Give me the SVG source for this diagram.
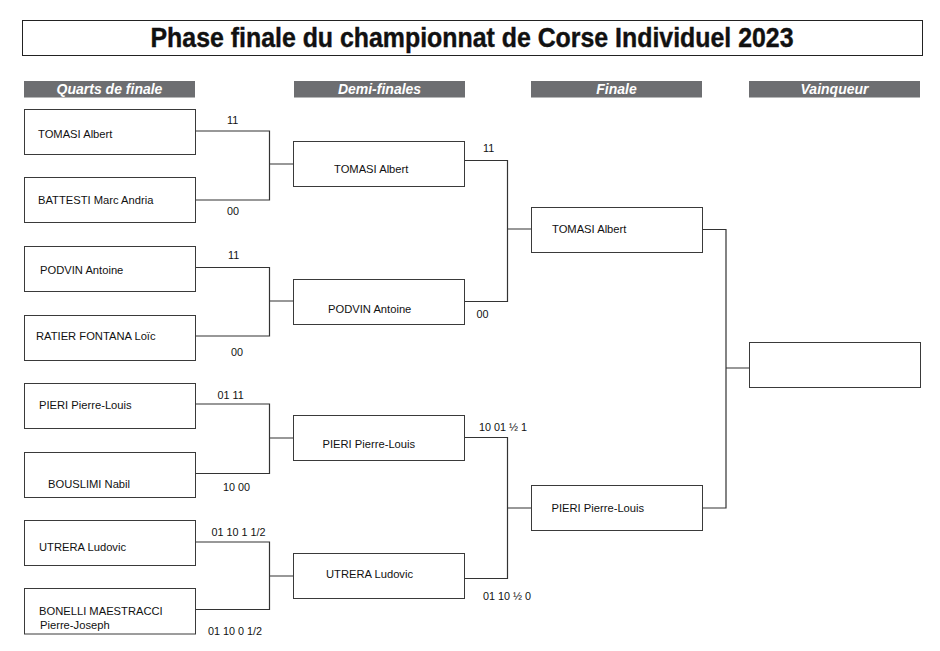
<svg xmlns="http://www.w3.org/2000/svg" width="940" height="651" viewBox="0 0 940 651">
<style>
.bg{fill:#ffffff}
.box{fill:#ffffff;stroke:#3a3a3a;stroke-width:1}
.hdr{fill:#6d6e71}
.hdrt{font-family:"Liberation Sans",Arial,sans-serif;font-weight:bold;font-style:italic;font-size:14px;fill:#ffffff;text-anchor:middle}
.name{font-family:"Liberation Sans",Arial,sans-serif;font-size:11.2px;fill:#111111}
.score{font-family:"Liberation Sans",Arial,sans-serif;font-size:10.8px;fill:#111111}
.conn{fill:none;stroke:#333333;stroke-width:1.2}
.title{font-family:"Liberation Sans",Arial,sans-serif;font-weight:bold;font-size:27px;fill:#111111;stroke:#111111;stroke-width:0.4;text-anchor:middle}
</style>
<rect class="bg" x="0" y="0" width="940" height="651"/>
<g id="title">
<rect x="22.5" y="20.5" width="900" height="35" fill="#ffffff" stroke="#222222" stroke-width="1"/>
<text class="title" x="472" y="46.5" textLength="643" lengthAdjust="spacingAndGlyphs">Phase finale du championnat de Corse Individuel 2023</text>
</g>
<g id="headers">
<g id="hdr-qf"><rect class="hdr" x="24" y="81" width="171" height="16.5"/><text class="hdrt" x="109.5" y="94">Quarts de finale</text></g>
<g id="hdr-sf"><rect class="hdr" x="294" y="81" width="171" height="16.5"/><text class="hdrt" x="379.5" y="94">Demi-finales</text></g>
<g id="hdr-f"><rect class="hdr" x="531" y="81" width="171" height="16.5"/><text class="hdrt" x="616.5" y="94">Finale</text></g>
<g id="hdr-v"><rect class="hdr" x="749" y="81" width="171" height="16.5"/><text class="hdrt" x="834.5" y="94">Vainqueur</text></g>
</g>
<g id="connectors">
<path class="conn" d="M196,131 H269.5 V200 H196 M269.5,164 H293"/>
<path class="conn" d="M196,267.5 H269.5 V336 H196 M269.5,301 H293"/>
<path class="conn" d="M196,404 H269.5 V473.5 H196 M269.5,438 H293"/>
<path class="conn" d="M196,542 H269.5 V609.5 H196 M269.5,576 H293"/>
<path class="conn" d="M465,160.5 H507.5 V301.5 H465 M507.5,229 H531"/>
<path class="conn" d="M465,437.5 H507.5 V578.5 H465 M507.5,508 H531"/>
<path class="conn" d="M702,229.5 H726 V508 H702 M726,368 H749"/>
</g>
<g id="qf1"><rect class="box" x="24.5" y="109.5" width="171" height="45"/><text class="name" x="38" y="137.5">TOMASI Albert</text></g>
<g id="qf2"><rect class="box" x="24.5" y="177.5" width="171" height="45"/><text class="name" x="38" y="204">BATTESTI Marc Andria</text></g>
<g id="qf3"><rect class="box" x="24.5" y="246.5" width="171" height="45"/><text class="name" x="40" y="274">PODVIN Antoine</text></g>
<g id="qf4"><rect class="box" x="24.5" y="315.5" width="171" height="45"/><text class="name" x="36" y="339.5">RATIER FONTANA Loïc</text></g>
<g id="qf5"><rect class="box" x="24.5" y="383.5" width="171" height="45"/><text class="name" x="39" y="409">PIERI Pierre-Louis</text></g>
<g id="qf6"><rect class="box" x="24.5" y="452.5" width="171" height="45"/><text class="name" x="48" y="487.5">BOUSLIMI Nabil</text></g>
<g id="qf7"><rect class="box" x="24.5" y="520.5" width="171" height="45"/><text class="name" x="39" y="551">UTRERA Ludovic</text></g>
<g id="qf8"><rect class="box" x="24.5" y="588.5" width="171" height="45.5"/><text class="name" x="39" y="615">BONELLI MAESTRACCI</text><text class="name" x="40" y="628.5">Pierre-Joseph</text></g>
<g id="sf1"><rect class="box" x="293.5" y="141.5" width="171" height="45"/><text class="name" x="334" y="172.5">TOMASI Albert</text></g>
<g id="sf2"><rect class="box" x="293.5" y="279.5" width="171" height="45"/><text class="name" x="328" y="313">PODVIN Antoine</text></g>
<g id="sf3"><rect class="box" x="293.5" y="415.5" width="171" height="45"/><text class="name" x="322.5" y="448">PIERI Pierre-Louis</text></g>
<g id="sf4"><rect class="box" x="293.5" y="553.5" width="171" height="45"/><text class="name" x="326" y="577.5">UTRERA Ludovic</text></g>
<g id="f1"><rect class="box" x="531.5" y="207.5" width="171" height="45"/><text class="name" x="552" y="233">TOMASI Albert</text></g>
<g id="f2"><rect class="box" x="531.5" y="485.5" width="171" height="45"/><text class="name" x="551.5" y="511.5">PIERI Pierre-Louis</text></g>
<g id="winner"><rect class="box" x="749.5" y="342.5" width="171" height="45"/></g>
<g id="scores">
<text class="score" x="227" y="123.5">11</text>
<text class="score" x="227" y="215">00</text>
<text class="score" x="228" y="259">11</text>
<text class="score" x="231" y="356">00</text>
<text class="score" x="217.5" y="399">01 11</text>
<text class="score" x="223" y="491">10 00</text>
<text class="score" x="211.5" y="536">01 10 1 1/2</text>
<text class="score" x="208" y="634.5">01 10 0 1/2</text>
<text class="score" x="483" y="152">11</text>
<text class="score" x="476.5" y="318">00</text>
<text class="score" x="479" y="431">10 01 ½ 1</text>
<text class="score" x="483" y="600">01 10 ½ 0</text>
</g>
</svg>
